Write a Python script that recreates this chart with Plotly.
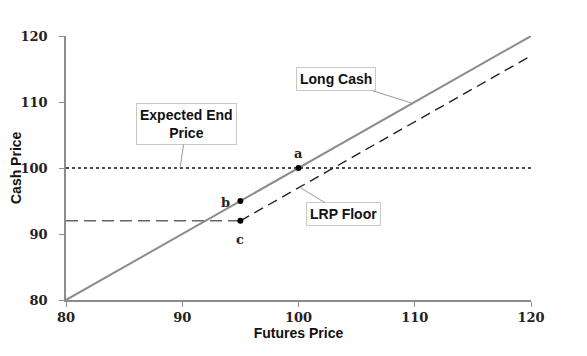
import plotly.graph_objects as go

# Data
long_cash_x = [80, 120]
long_cash_y = [80, 120]
floor_flat_x = [80, 95]
floor_flat_y = [92, 92]
floor_diag_x = [95, 120]
floor_diag_y = [92, 117]
expected_x = [80, 120]
expected_y = [100, 100]
pts_x = [100, 95, 95]
pts_y = [100, 95, 92]
pts_lbl = ["a", "b", "c"]
tick_vals = [80, 90, 100, 110, 120]

fig = go.Figure()
fig.add_trace(go.Scatter(x=expected_x, y=expected_y, mode="lines",
                         line=dict(color="#111111", width=1.6, dash="dot")))
fig.add_trace(go.Scatter(x=long_cash_x, y=long_cash_y, mode="lines",
                         line=dict(color="#8c8c8c", width=2)))
fig.add_trace(go.Scatter(x=floor_flat_x, y=floor_flat_y, mode="lines",
                         line=dict(color="#666666", width=1.6, dash="12px,6px")))
fig.add_trace(go.Scatter(x=floor_diag_x, y=floor_diag_y, mode="lines",
                         line=dict(color="#222222", width=1.4, dash="10px,6px")))
fig.add_trace(go.Scatter(x=pts_x, y=pts_y, mode="markers",
                         marker=dict(color="black", size=6)))

serif = dict(family="DejaVu Serif", size=13, color="#222222", weight="bold")
fig.add_annotation(x=pts_x[0], y=pts_y[0], text=pts_lbl[0], showarrow=False,
                   yshift=15, font=serif)
fig.add_annotation(x=pts_x[1], y=pts_y[1], text=pts_lbl[1], showarrow=False,
                   xshift=-15, yshift=-1, font=serif)
fig.add_annotation(x=pts_x[2], y=pts_y[2], text=pts_lbl[2], showarrow=False,
                   yshift=-19, font=serif)

box_font = dict(family="Liberation Sans", size=14, color="#111111", weight="bold")
box = dict(bordercolor="#c8c8c8", borderwidth=1, bgcolor="white", borderpad=3,
           showarrow=True, arrowhead=0, arrowcolor="#9a9a9a", arrowwidth=1,
           axref="pixel", ayref="pixel", font=box_font)
fig.add_annotation(x=89.8, y=100, text="Expected End<br>Price", ax=7, ay=-44, **box)
fig.add_annotation(x=109.8, y=109.8, text="Long Cash", ax=-76, ay=-24, **box)
fig.add_annotation(x=100.1, y=97.1, text="LRP Floor", ax=44, ay=27, **box)

title_font = dict(family="Liberation Sans", size=14, color="#111111", weight="bold")
fig.add_annotation(xref="paper", yref="paper", x=0, y=0.5, xanchor="center", yanchor="middle",
                   xshift=-50, textangle=-90, text="Cash Price", showarrow=False,
                   font=title_font)

axis_common = dict(range=[80, 120], tickvals=tick_vals, showgrid=False, zeroline=False,
                   showline=True, linecolor="#8c8c8c", linewidth=1.5,
                   ticks="outside", ticklen=5, tickcolor="#8c8c8c", tickwidth=1,
                   tickfont=dict(family="DejaVu Serif", size=13, color="#222222", weight="bold"),
                   fixedrange=True, automargin=False)
fig.update_xaxes(**axis_common,
                 title=dict(text="Futures Price", standoff=4, font=title_font))
fig.update_yaxes(**axis_common, ticklabelstandoff=9)

fig.update_layout(width=587, height=356, showlegend=False,
                  margin=dict(l=58, r=64, t=28, b=64),
                  paper_bgcolor="white", plot_bgcolor="white")

fig.write_html("out.html")
